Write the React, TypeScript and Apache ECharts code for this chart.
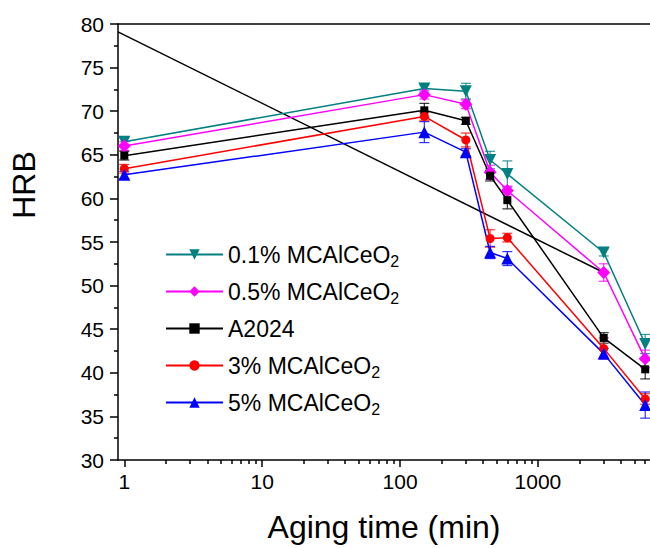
import React, { useEffect, useRef } from 'react';
import * as echarts from 'echarts';

// ---- data ----
const AGING_TIME = [1, 150, 300, 450, 600, 3000, 6000];
const SERIES_NAMES = ['0.1% MCAlCeO2', '0.5% MCAlCeO2', 'A2024', '3% MCAlCeO2', '5% MCAlCeO2'];
const HRB_01 = [66.5, 72.6, 72.3, 64.4, 62.8, 53.8, 43.3];
const HRB_05 = [66.0, 71.9, 70.8, 63.0, 60.9, 51.5, 41.6];
const HRB_A2024 = [64.9, 70.1, 68.9, 62.6, 59.8, 44.0, 40.4];
const HRB_3 = [63.4, 69.4, 66.7, 55.4, 55.5, 42.8, 37.0];
const HRB_5 = [62.7, 67.6, 65.3, 53.8, 53.1, 42.2, 36.3];
const ERR_01 = [0.4, 0.4, 0.9, 1.0, 1.5, 0.4, 1.1];
const ERR_05 = [0.5, 0.5, 0.5, 0.8, 0.5, 1.0, 1.0];
const ERR_A2024 = [0.5, 0.8, 0.4, 0.6, 1.0, 0.6, 1.1];
const ERR_3 = [0.5, 0.5, 0.8, 1.0, 0.5, 1.2, 0.6];
const ERR_5 = [0.4, 1.2, 0.4, 0.7, 0.8, 0.6, 1.5];
const FIT_X = [0.9, 3000];
const FIT_Y = [79.1, 51.5];
const X_MAJOR_TICKS = [1, 10, 100, 1000];
const X_MINOR_TICKS = [2, 3, 4, 5, 6, 7, 8, 9, 20, 30, 40, 50, 60, 70, 80, 90, 200, 300, 400, 500, 600, 700, 800, 900, 2000, 3000, 4000, 5000, 6000];

const FONT = '"Liberation Sans", Arial, sans-serif';
const COLORS = ['#008080', '#ff00ff', '#000000', '#ff0000', '#0000ff'];
const SYMBOLS = ['triangle', 'diamond', 'rect', 'circle', 'triangle'];
const SIZES = [12, 13, 8, 9, 12];
const ROTATES = [180, 0, 0, 0, 0];
const VALUES = [HRB_01, HRB_05, HRB_A2024, HRB_3, HRB_5];
const ERRORS = [ERR_01, ERR_05, ERR_A2024, ERR_3, ERR_5];

export default function App() {
  const ref = useRef<HTMLDivElement>(null);
  useEffect(() => {
    if (!ref.current) return;
    const chart = echarts.init(ref.current, undefined, { renderer: 'svg' });
    const lineSeries = SERIES_NAMES.map((name, s) => ({
      type: 'line',
      name,
      data: AGING_TIME.map((t, i) => [t, VALUES[s][i]]),
      symbol: SYMBOLS[s],
      symbolSize: SIZES[s],
      symbolRotate: ROTATES[s],
      lineStyle: { color: COLORS[s], width: 1.5 },
      itemStyle: { color: COLORS[s] },
      z: 3,
    }));
    const errSeries = SERIES_NAMES.map((name, s) => ({
      type: 'custom',
      name: name + ' err',
      data: AGING_TIME.map((t, i) => [t, VALUES[s][i] - ERRORS[s][i], VALUES[s][i] + ERRORS[s][i]]),
      encode: { x: 0, y: [1, 2] },
      z: 2,
      renderItem: (params: any, api: any) => {
        const x = api.value(0);
        const top = api.coord([x, api.value(2)]);
        const bot = api.coord([x, api.value(1)]);
        const w = 5;
        const style = { stroke: COLORS[s], lineWidth: 1.2, opacity: 0.8 };
        return {
          type: 'group',
          children: [
            { type: 'line', shape: { x1: top[0], y1: top[1], x2: bot[0], y2: bot[1] }, style },
            { type: 'line', shape: { x1: top[0] - w, y1: top[1], x2: top[0] + w, y2: top[1] }, style },
            { type: 'line', shape: { x1: bot[0] - w, y1: bot[1], x2: bot[0] + w, y2: bot[1] }, style },
          ],
        };
      },
    }));
    const fitSeries = {
      type: 'line',
      name: 'fit',
      data: FIT_X.map((x, i) => [x, FIT_Y[i]]),
      symbol: 'none',
      lineStyle: { color: '#000', width: 1.5 },
      z: 1,
      silent: true,
    };
    chart.setOption({
      animation: false,
      backgroundColor: '#fff',
      grid: { left: 117, top: 24, width: 536, height: 437 },
      legend: {
        orient: 'vertical',
        left: 160,
        top: 238,
        itemGap: 11,
        itemWidth: 57,
        itemHeight: 13,
        data: SERIES_NAMES,
        formatter: (n: string) => (n.endsWith('O2') ? n.slice(0, -1) + '{sub|2}' : n + '{sub| }'),
        textStyle: {
          fontSize: 23,
          color: '#000',
          fontFamily: FONT,
          rich: { sub: { fontSize: 16, fontFamily: FONT, color: '#000', padding: [13, 0, 0, 0], verticalAlign: 'bottom' } },
        },
      },
      xAxis: [
        {
          type: 'log',
          logBase: 10,
          min: 0.9,
          max: 6500,
          position: 'bottom',
          axisLine: { show: true, lineStyle: { color: '#000', width: 1.5 } },
          axisTick: { show: true, inside: false, length: 7, customValues: X_MAJOR_TICKS, lineStyle: { color: '#000', width: 1.5 } },
          axisLabel: { fontSize: 21, color: '#000', fontFamily: FONT, margin: 11, customValues: X_MAJOR_TICKS, formatter: (v: number) => String(Math.round(v)) },
          splitLine: { show: false },
          name: 'Aging time (min)',
          nameLocation: 'middle',
          nameGap: 51,
          nameTextStyle: { fontSize: 32, color: '#000', fontFamily: FONT },
        },
        {
          type: 'log',
          logBase: 10,
          min: 0.9,
          max: 6500,
          position: 'bottom',
          axisLine: { show: false },
          axisTick: { show: true, inside: false, length: 4, customValues: X_MINOR_TICKS, lineStyle: { color: '#000', width: 1.5 } },
          axisLabel: { show: false },
          splitLine: { show: false },
        },
        {
          type: 'value',
          min: 0,
          max: 1,
          position: 'top',
          axisLine: { show: true, lineStyle: { color: '#000', width: 1.5 } },
          axisTick: { show: false },
          axisLabel: { show: false },
          splitLine: { show: false },
        },
      ],
      yAxis: {
        type: 'value',
        min: 30,
        max: 80,
        interval: 5,
        axisLine: { show: true, lineStyle: { color: '#000', width: 1.5 } },
        axisTick: { show: true, inside: false, length: 8, lineStyle: { color: '#000', width: 1.5 } },
        minorTick: { show: true, splitNumber: 2, length: 4, lineStyle: { color: '#000', width: 1.5 } },
        splitLine: { show: false },
        axisLabel: { fontSize: 21, color: '#000', fontFamily: FONT, margin: 14 },
        name: 'HRB',
        nameLocation: 'middle',
        nameGap: 78,
        nameTextStyle: { fontSize: 32, color: '#000', fontFamily: FONT, padding: [0, 0, 0, 114] },
      },
      series: [fitSeries, ...errSeries, ...lineSeries],
    });
    return () => chart.dispose();
  }, []);
  return <div ref={ref} style={{ position: 'fixed', left: 0, top: 0, width: 650, height: 548 }} />;
}
